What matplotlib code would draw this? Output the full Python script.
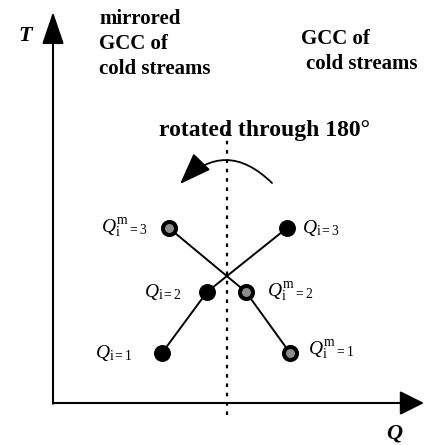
import matplotlib
matplotlib.use("Agg")
import matplotlib.pyplot as plt
from matplotlib.patches import FancyArrowPatch

# ---- data (arbitrary heat-load Q / temperature T units) ----
T_levels = [5.0, 11.1, 17.5]              # i = 1, 2, 3
Q_cold = [10.9, 15.4, 23.4]               # GCC of cold streams
Q_mirror = [23.7, 19.3, 11.6]             # mirrored GCC (rotated 180 deg)
labels_cold = [r"$Q_{\mathrm{i=1}}$", r"$Q_{\mathrm{i=2}}$", r"$Q_{\mathrm{i=3}}$"]
labels_mirror = [r"$Q_{\mathrm{i}}^{\mathrm{m}}{}_{\mathrm{=1}}$",
                 r"$Q_{\mathrm{i}}^{\mathrm{m}}{}_{\mathrm{=2}}$",
                 r"$Q_{\mathrm{i}}^{\mathrm{m}}{}_{\mathrm{=3}}$"]
Q_axis_mid = 17.4

W, H = 424, 445
plt.rcParams["font.family"] = ["Liberation Serif", "DejaVu Serif"]
plt.rcParams["mathtext.fontset"] = "custom"
plt.rcParams["mathtext.rm"] = "Liberation Serif"
plt.rcParams["mathtext.it"] = "Liberation Serif:italic"

fig = plt.figure(figsize=(W / 100, H / 100), dpi=100)
ax = fig.add_axes([0, 0, 1, 1])
ax.set_xlim(-5.3, 37.1)
ax.set_ylim(-4.2, 40.3)
ax.axis("off")


def fp(x, y):
    return x / W, 1 - y / H


# axes arrows
ax.add_patch(FancyArrowPatch((0, 0), (37.1, 0), arrowstyle="-|>,head_length=15,head_width=7.5",
                             mutation_scale=1, lw=1.5, color="black", shrinkA=0, shrinkB=0))
ax.add_patch(FancyArrowPatch((0, -0.07), (0, 39.1), arrowstyle="-|>,head_length=20,head_width=6.8",
                             mutation_scale=1, lw=1.5, color="black", shrinkA=0, shrinkB=0))
fig.text(*fp(25, 36), "T", fontsize=16, fontweight="bold", fontstyle="italic",
         ha="center", va="center")
fig.text(*fp(394, 438), "Q", fontsize=16, fontweight="bold", fontstyle="italic",
         ha="center", va="baseline")

# dotted symmetry line
ax.plot([Q_axis_mid, Q_axis_mid], [-1.2, 27.5], color="black", lw=1.6,
        dashes=(1.6, 2.6), zorder=1)

# curves
ax.plot(Q_cold, T_levels, color="black", lw=1.4, zorder=2)
ax.plot(Q_mirror, T_levels, color="black", lw=1.4, zorder=2)
ax.plot(Q_cold, T_levels, "o", ms=12.2, mfc="black", mec="black", mew=0, zorder=3)
ax.plot(Q_mirror, T_levels, "o", ms=9.4, mfc="#8c8c8c", mec="black", mew=2.9, zorder=3)

# point labels
off_cold = [(-29, 0, "right"), (-25, 0, "right"), (15, 0, "left")]
off_mirror = [(18, 3, "left"), (21, 0, "left"), (-22, 0, "right")]
for q, t, lab, (dx, dy, ha) in zip(Q_cold, T_levels, labels_cold, off_cold):
    ax.annotate(lab, (q, t), xytext=(dx, -dy), textcoords="offset pixels",
                fontsize=14, ha=ha, va="center")
for q, t, lab, (dx, dy, ha) in zip(Q_mirror, T_levels, labels_mirror, off_mirror):
    ax.annotate(lab, (q, t), xytext=(dx, dy), textcoords="offset pixels",
                fontsize=14, ha=ha, va="center")

# rotation arrow
arc = FancyArrowPatch(fp(272, 183), fp(180, 184), transform=fig.transFigure,
                      connectionstyle="arc3,rad=0.5",
                      arrowstyle="-|>,head_length=20,head_width=7.4",
                      mutation_scale=1, lw=1.3, color="black", shrinkA=0, shrinkB=0)
fig.patches.append(arc)

# texts
bold = dict(fontsize=15, fontweight="bold", ha="left", va="baseline")
fig.text(*fp(99, 24), "mirrored", **bold)
fig.text(*fp(99, 49), "GCC of", **bold)
fig.text(*fp(99, 74), "cold streams", **bold)
fig.text(*fp(301, 44), "GCC of", **bold)
fig.text(*fp(306, 69), "cold streams", **bold)
fig.text(*fp(159, 136), "rotated through 180°", fontsize=17, fontweight="bold",
         ha="left", va="baseline")

fig.savefig("out.png", dpi=100)
